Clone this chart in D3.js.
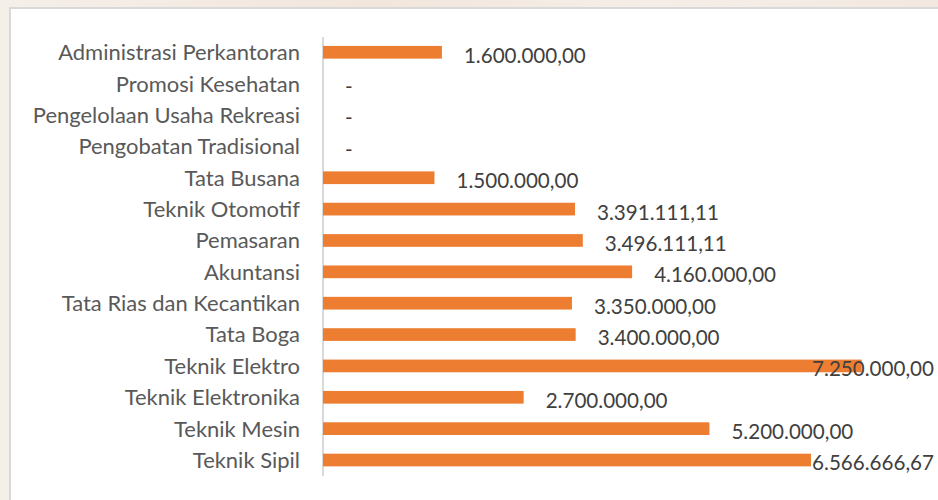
<!DOCTYPE html>
<html>
<head>
<meta charset="utf-8">
<script src="https://cdn.jsdelivr.net/npm/d3@7"></script>
<style>
  html, body { margin: 0; padding: 0; background: #f4ece6; }
  svg { display: block; }
</style>
</head>
<body>
<svg id="chart" width="938" height="500"></svg>
<script>
const categories = [
  "Administrasi Perkantoran",
  "Promosi Kesehatan",
  "Pengelolaan Usaha Rekreasi",
  "Pengobatan Tradisional",
  "Tata Busana",
  "Teknik Otomotif",
  "Pemasaran",
  "Akuntansi",
  "Tata Rias dan Kecantikan",
  "Tata Boga",
  "Teknik Elektro",
  "Teknik Elektronika",
  "Teknik Mesin",
  "Teknik Sipil"
];
const values = [1600000, 0, 0, 0, 1500000, 3391111.11, 3496111.11, 4160000, 3350000, 3400000, 7250000, 2700000, 5200000, 6566666.67];
const valueLabels = ["1.600.000,00", "-", "-", "-", "1.500.000,00", "3.391.111,11", "3.496.111,11", "4.160.000,00", "3.350.000,00", "3.400.000,00", "7.250.000,00", "2.700.000,00", "5.200.000,00", "6.566.666,67"];
const xDomain = [0, 8000000];

const svg = d3.select("#chart");
const W = 938, H = 500;
const FONT = "Lato, 'Open Sans', sans-serif";

// background strip + white panel
const defs = svg.append("defs");
const g1 = defs.append("linearGradient").attr("id", "bg").attr("x1", 0).attr("x2", 1);
g1.append("stop").attr("offset", "0%").attr("stop-color", "#f5efea");
g1.append("stop").attr("offset", "40%").attr("stop-color", "#f2e6dc");
g1.append("stop").attr("offset", "70%").attr("stop-color", "#f5eee8");
g1.append("stop").attr("offset", "100%").attr("stop-color", "#f2e8e0");
svg.append("rect").attr("width", W).attr("height", H).attr("fill", "url(#bg)");
svg.append("rect").attr("x", 10).attr("y", 8).attr("width", W).attr("height", H)
  .attr("fill", "#ffffff").attr("stroke", "#d9d9d9").attr("stroke-width", 2);

const x = d3.scaleLinear().domain(xDomain).range([323, 917.5]);
const y = d3.scaleBand().domain(categories).range([36.6, 475.7]).paddingInner(0.595).paddingOuter(0.2975);

// axis line
svg.append("line").attr("x1", x(0)).attr("x2", x(0)).attr("y1", 37).attr("y2", 476)
  .attr("stroke", "#d9d9d9").attr("stroke-width", 2);

// bars
svg.selectAll("rect.bar").data(categories).join("rect")
  .attr("class", "bar")
  .attr("x", x(0))
  .attr("y", d => y(d))
  .attr("width", (d, i) => x(values[i]) - x(0))
  .attr("height", y.bandwidth())
  .attr("fill", "#ed7d31");

// category labels
const catG = svg.append("g");
const catTexts = catG.selectAll("text").data(categories).join("text")
  .attr("x", 300)
  .attr("y", d => y(d) + y.bandwidth() / 2)
  .attr("dy", "0.36em")
  .attr("text-anchor", "end")
  .attr("fill", "#595959")
  .style("font-family", FONT)
  .style("font-size", "20px")
  .text(d => d);
// fit size so widest label matches reference width
const w0 = catTexts.nodes()[0].getComputedTextLength();
const catSize = 20 * 242 / w0;
catTexts.style("font-size", catSize + "px");

// value labels
const valTexts = svg.append("g").selectAll("text").data(categories).join("text")
  .attr("y", d => y(d) + y.bandwidth() / 2 + 3)
  .attr("dy", "0.36em")
  .attr("fill", "#404040")
  .style("font-family", FONT)
  .style("font-size", "20px")
  .text((d, i) => valueLabels[i]);
const vw0 = valTexts.nodes()[10].getComputedTextLength();
const valSize = 20 * 122 / vw0;
valTexts.style("font-size", valSize + "px");
const rightEdge = 934;
valTexts.attr("x", function(d, i) {
  const w = this.getComputedTextLength();
  let px = x(values[i]) + 22;
  if (px + w > rightEdge) px = rightEdge - w;
  return px;
});
</script>
</body>
</html>
